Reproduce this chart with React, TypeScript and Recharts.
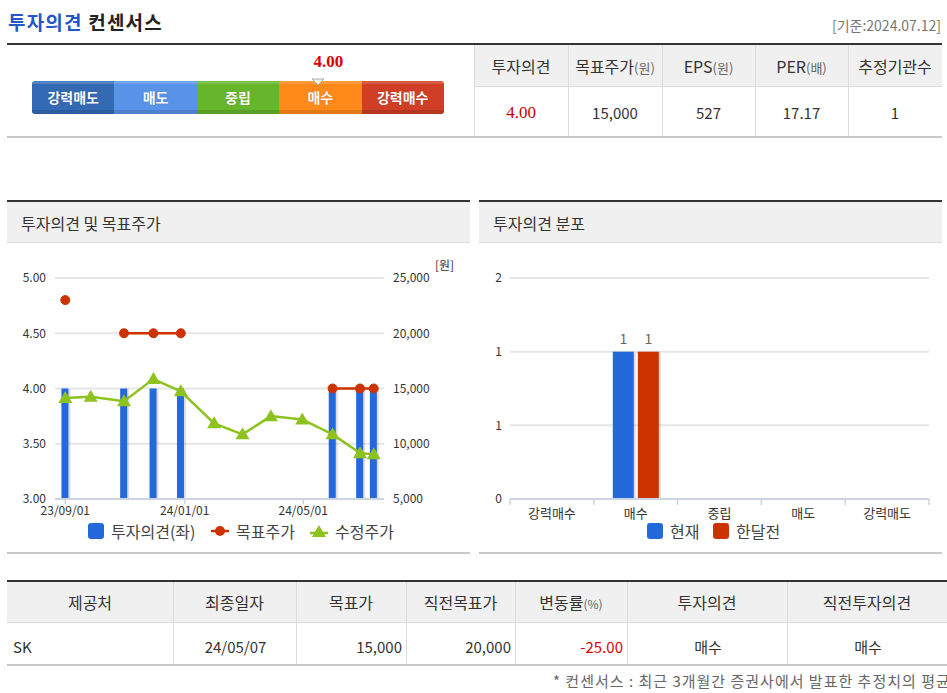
import React from 'react'
import { ComposedChart, BarChart, Bar, Line, XAxis, YAxis, CartesianGrid, LabelList } from 'recharts'

// monthly points (last trading day of month)
const dates = ['2023-09-01', '2023-09-27', '2023-10-31', '2023-11-30', '2023-12-28', '2024-01-31', '2024-02-29', '2024-03-29', '2024-04-30', '2024-05-31', '2024-06-28', '2024-07-12']
const opinion = [4, null, 4, 4, 4, null, null, null, null, 4, 4, 4]
const targetPrice = [23000, null, 20000, 20000, 20000, null, null, null, null, 15000, 15000, 15000]
const adjPrice = [14150, 14250, 13850, 15850, 14750, 11850, 10850, 12500, 12200, 10850, 9150, 9050]
const dateTicks = ['2023-09-01', '2024-01-01', '2024-05-01']
const leftTicks = [3, 3.5, 4, 4.5, 5]
const rightTicks = [5000, 10000, 15000, 20000, 25000]

const grades = ['강력매수', '매수', '중립', '매도', '강력매도']
const nowCounts = [0, 1, 0, 0, 0]
const monthAgoCounts = [0, 1, 0, 0, 0]
const countTicks = [0, 0.5, 1, 1.5]

const scaleLabels = ['강력매도', '매도', '중립', '매수', '강력매수']
const scaleColors = ['#3469b4', '#5893e8', '#66b52a', '#ff8a1a', '#cf3e25']
const consensusScore = 4.0

const summaryHeads = ['투자의견', '목표주가', 'EPS', 'PER', '추정기관수']
const summaryUnits = ['', '(원)', '(원)', '(배)', '']
const summaryValues = ['4.00', '15,000', '527', '17.17', '1']

const detailHeads = ['제공처', '최종일자', '목표가', '직전목표가', '변동률', '투자의견', '직전투자의견']
const detailUnits = ['', '', '', '', '(%)', '', '']
const detailRow = ['SK', '24/05/07', '15,000', '20,000', '-25.00', '매수', '매수']

const DAY = 86400000
const toTs = (s: string) => {
  const [y, m, d] = s.split('-').map(Number)
  return Date.UTC(y, m - 1, d)
}
const pad = (n: number) => String(n).padStart(2, '0')
const fmtDate = (t: number) => {
  const d = new Date(t)
  return `${String(d.getUTCFullYear()).slice(2)}/${pad(d.getUTCMonth() + 1)}/${pad(d.getUTCDate())}`
}

const timeData = dates.map((d, i) => ({ t: toTs(d), opinion: opinion[i], target: targetPrice[i], price: adjPrice[i] }))
const gradeData = grades.map((g, i) => ({ name: g, now: nowCounts[i], prev: monthAgoCounts[i] }))

const FONT = "'Noto Sans CJK KR', 'Noto Sans', sans-serif"
const AXIS = '#cbd5e1'
const GRID = '#e6e6e6'

const ShadowBar = (p: any) => {
  if (!p.height || p.height <= 0) return null
  return (
    <g>
      <rect x={p.x + 2} y={p.y + 1} width={p.width} height={p.height} fill="#000" opacity={0.13} />
      <rect x={p.x} y={p.y} width={p.width} height={p.height} fill={p.fill} />
    </g>
  )
}

const Tri = (p: any) => {
  const { cx, cy } = p
  if (cx == null || cy == null) return null
  return <polygon key={p.index} points={`${cx},${cy - 7} ${cx - 7},${cy + 5} ${cx + 7},${cy + 5}`} fill="#8dc21f" />
}

const BAND = 419 / 5
const CatTick = (p: any) => {
  const { x, index } = p
  const y0 = 249
  return (
    <g>
      <line x1={x - BAND / 2} x2={x - BAND / 2} y1={y0} y2={y0 + 6} stroke={AXIS} strokeWidth={1.5} />
      {index === grades.length - 1 && <line x1={x + BAND / 2} x2={x + BAND / 2} y1={y0} y2={y0 + 6} stroke={AXIS} strokeWidth={1.5} />}
      <text x={x} y={y0 + 19} textAnchor="middle" fontSize={13} fill="#333">{p.payload.value}</text>
    </g>
  )
}

const CountLabel = (p: any) => {
  if (!p.value) return null
  return <text x={p.x + p.width / 2} y={p.y - 8} textAnchor="middle" fontSize={14} fill="#666">{p.value}</text>
}

const abs = (left: number, top: number, w: number, h: number, extra: React.CSSProperties = {}): React.CSSProperties => ({
  position: 'absolute', left, top, width: w, height: h, ...extra,
})

function TimelineChart() {
  return (
    <ComposedChart width={470} height={300} data={timeData} margin={{ top: 28, right: 26, bottom: 21, left: 5 }}>
      <CartesianGrid yAxisId="left" vertical={false} stroke={GRID} strokeWidth={2} />
      <XAxis dataKey="t" type="number" domain={[(min: number) => min - 10.5 * DAY, (max: number) => max + 10.5 * DAY]}
        ticks={dateTicks.map(toTs)} tickFormatter={fmtDate} interval={0} height={30}
        axisLine={{ stroke: AXIS, strokeWidth: 2 }} tickLine={{ stroke: AXIS, strokeWidth: 1.5 }} tickSize={5}
        tick={{ fontSize: 12, fill: '#333' }} />
      <YAxis yAxisId="left" domain={[3, 5]} ticks={leftTicks} tickFormatter={(v: number) => v.toFixed(2)} width={50}
        axisLine={false} tickLine={false} tickMargin={3} tick={{ fontSize: 12, fill: '#333' }} />
      <YAxis yAxisId="right" orientation="right" domain={[5000, 25000]} ticks={rightTicks} width={60}
        tickFormatter={(v: number) => v.toLocaleString('en-US')}
        axisLine={false} tickLine={false} tickMargin={3} tick={{ fontSize: 12, fill: '#333', textAnchor: 'start' }} />
      <Bar yAxisId="left" dataKey="opinion" barSize={7} fill="#2469dc" shape={ShadowBar} isAnimationActive={false} />
      <Line yAxisId="right" dataKey="price" stroke="#8dc21f" strokeWidth={2.5} dot={Tri} activeDot={false} isAnimationActive={false} />
      <Line yAxisId="right" dataKey="target" stroke="#cc3300" strokeWidth={2.5}
        dot={{ r: 4.5, fill: '#cc3300', stroke: '#cc3300', strokeWidth: 1 }} activeDot={false} isAnimationActive={false} />
    </ComposedChart>
  )
}

function DistributionChart() {
  return (
    <BarChart width={477} height={300} data={gradeData} margin={{ top: 28, right: 18, bottom: 21, left: 10 }} barGap={4}>
      <CartesianGrid vertical={false} stroke={GRID} strokeWidth={2} />
      <XAxis dataKey="name" interval={0} height={30} axisLine={{ stroke: AXIS, strokeWidth: 2 }} tickLine={false} tick={CatTick} />
      <YAxis domain={[0, 1.5]} ticks={countTicks} tickFormatter={(v: number) => String(Math.round(v))} width={30}
        axisLine={false} tickLine={false} tickMargin={2} tick={{ fontSize: 12, fill: '#333' }} />
      <Bar dataKey="now" barSize={21} fill="#2469dc" shape={ShadowBar} isAnimationActive={false}>
        <LabelList dataKey="now" content={CountLabel} />
      </Bar>
      <Bar dataKey="prev" barSize={21} fill="#cc3300" shape={ShadowBar} isAnimationActive={false}>
        <LabelList dataKey="prev" content={CountLabel} />
      </Bar>
    </BarChart>
  )
}

const Legend = ({ items, top }: { items: { left: number, icon: React.ReactNode, label: string }[], top: number }) => (
  <>
    {items.map((it) => (
      <div key={it.label} style={{ position: 'absolute', left: it.left, top, height: 20, display: 'flex', alignItems: 'center', fontSize: 16, color: '#444', whiteSpace: 'nowrap' }}>
        {it.icon}
        <span style={{ marginLeft: 7 }}>{it.label}</span>
      </div>
    ))}
  </>
)

const Square = ({ c }: { c: string }) => (
  <svg width={16} height={16}><rect x={0} y={0} width={16} height={16} rx={3} fill={c} /></svg>
)
const LineDot = () => (
  <svg width={18} height={12}><line x1={0} x2={18} y1={6} y2={6} stroke="#cc3300" strokeWidth={2.5} /><circle cx={9} cy={6} r={5} fill="#cc3300" /></svg>
)
const LineTri = () => (
  <svg width={18} height={14}><line x1={0} x2={18} y1={9} y2={9} stroke="#8dc21f" strokeWidth={2.5} /><polygon points="9,1 2,13 16,13" fill="#8dc21f" /></svg>
)

function PanelHead({ left, width, title }: { left: number, width: number, title: string }) {
  return (
    <>
      <div style={abs(left, 200, width, 2, { background: '#333' })} />
      <div style={abs(left, 202, width, 41, { background: '#f0f0f0', borderBottom: '1px solid #dcdcdc', boxSizing: 'border-box' })} />
      <div style={abs(left + 14, 212, width - 20, 22, { fontSize: 16, lineHeight: '22px', color: '#333' })}>{title}</div>
      <div style={abs(left, 552, width, 2, { background: '#c8c8c8' })} />
    </>
  )
}

export default function App() {
  const topCols = [474, 568, 662, 755, 848, 942]
  const botCols = [7, 173, 296, 406, 515, 627, 787, 947]
  const botAlign = ['left', 'center', 'right', 'right', 'right', 'center', 'center']
  const segW = 412 / 5
  const markerX = 32 + (consensusScore - 1) * segW + segW / 2 - 2
  return (
    <div style={{ position: 'absolute', left: 0, top: 0, width: 947, height: 693, overflow: 'hidden', background: '#fff', fontFamily: FONT }}>
      {/* title */}
      <div style={abs(8, 8, 300, 28, { fontSize: 19, fontWeight: 700, letterSpacing: 1.2, lineHeight: '28px', color: '#222' })}>
        <span style={{ color: '#2356c9' }}>투자의견</span> 컨센서스
      </div>
      <div style={{ position: 'absolute', right: 6, top: 15, fontSize: 14, lineHeight: '20px', color: '#777' }}>[기준:2024.07.12]</div>
      <div style={abs(7, 43, 935, 2, { background: '#333' })} />

      {/* opinion scale */}
      <div style={abs(markerX - 30, 51, 80, 22, { textAlign: 'center', fontFamily: "'Liberation Serif', serif", fontWeight: 700, fontSize: 17, color: '#dd0000', lineHeight: '22px' })}>
        {consensusScore.toFixed(2)}
      </div>
      <div style={abs(32, 81, 412, 33, { borderRadius: 3, overflow: 'hidden', display: 'flex' })}>
        {scaleLabels.map((s, i) => (
          <div key={s} style={{ width: segW, height: 33, background: scaleColors[i], position: 'relative', color: '#fff', fontSize: 14, fontWeight: 700, textAlign: 'center', lineHeight: '33px', textShadow: '0 0 1px rgba(0,0,0,0.3)' }}>
            <div style={abs(0, 0, segW, 3, { background: 'rgba(255,255,255,0.15)' })} />
            <div style={abs(0, 29, segW, 4, { background: 'rgba(0,0,0,0.12)' })} />
            <span style={{ position: 'relative' }}>{s}</span>
          </div>
        ))}
      </div>
      <svg style={abs(markerX - 7, 78, 14, 8)}><polygon points="1,1 13,1 7,7" fill="#f4f4f4" stroke="#aaa" strokeWidth={1} /></svg>

      {/* summary table */}
      <div style={abs(topCols[0], 45, topCols[5] - topCols[0], 42, { background: '#f0f0f0', borderBottom: '1px solid #dcdcdc', boxSizing: 'border-box' })} />
      {topCols.slice(0, 5).map((c, i) => (
        <React.Fragment key={i}>
          <div style={abs(c, 45, 1, 92, { background: '#dcdcdc' })} />
          <div style={abs(c, 55, topCols[i + 1] - c, 22, { textAlign: 'center', fontSize: 16, lineHeight: '22px', color: '#333', whiteSpace: 'nowrap' })}>
            {summaryHeads[i]}<span style={{ fontSize: 13, color: '#666' }}>{summaryUnits[i]}</span>
          </div>
          <div style={abs(c, 102, topCols[i + 1] - c, 22, i === 0
            ? { textAlign: 'center', fontFamily: "'Liberation Serif', serif", fontSize: 17, lineHeight: '22px', color: '#cc0000' }
            : { textAlign: 'center', fontSize: 15, lineHeight: '22px', color: '#333' })}>
            {summaryValues[i]}
          </div>
        </React.Fragment>
      ))}
      <div style={abs(7, 136, 935, 2, { background: '#c8c8c8' })} />

      {/* chart panels */}
      <PanelHead left={7} width={463} title="투자의견 및 목표주가" />
      <PanelHead left={479} width={463} title="투자의견 분포" />
      <div style={abs(0, 250, 470, 300)}><TimelineChart /></div>
      <div style={abs(435, 257, 30, 16, { fontSize: 12, lineHeight: '16px', color: '#333' })}>[원]</div>
      <Legend top={521} items={[
        { left: 88, icon: <Square c="#2469dc" />, label: '투자의견(좌)' },
        { left: 211, icon: <LineDot />, label: '목표주가' },
        { left: 310, icon: <LineTri />, label: '수정주가' },
      ]} />
      <div style={abs(470, 250, 477, 300)}><DistributionChart /></div>
      <Legend top={521} items={[
        { left: 647, icon: <Square c="#2469dc" />, label: '현재' },
        { left: 713, icon: <Square c="#cc3300" />, label: '한달전' },
      ]} />

      {/* detail table */}
      <div style={abs(7, 580, 940, 2, { background: '#333' })} />
      <div style={abs(7, 582, 940, 41, { background: '#f0f0f0', borderBottom: '1px solid #dcdcdc', boxSizing: 'border-box' })} />
      {botCols.slice(0, 7).map((c, i) => (
        <React.Fragment key={i}>
          {i > 0 && <div style={abs(c, 582, 1, 82, { background: '#dcdcdc' })} />}
          <div style={abs(c, 591, botCols[i + 1] - c, 22, { textAlign: 'center', fontSize: 16, lineHeight: '22px', color: '#333', whiteSpace: 'nowrap' })}>
            {detailHeads[i]}<span style={{ fontSize: 12, color: '#666' }}>{detailUnits[i]}</span>
          </div>
          <div style={abs(c + 6, 636, botCols[i + 1] - c - 10, 22, {
            textAlign: botAlign[i] as any, fontSize: 15, lineHeight: '22px', whiteSpace: 'nowrap',
            color: i === 4 ? '#dd0000' : '#333',
          })}>
            {detailRow[i]}
          </div>
        </React.Fragment>
      ))}
      <div style={abs(7, 664, 940, 2, { background: '#c8c8c8' })} />
      <div style={abs(553, 671, 460, 20, { fontSize: 15, letterSpacing: 1, lineHeight: '20px', color: '#666', whiteSpace: 'nowrap' })}>
        * 컨센서스 : 최근 3개월간 증권사에서 발표한 추정치의 평균
      </div>
    </div>
  )
}
